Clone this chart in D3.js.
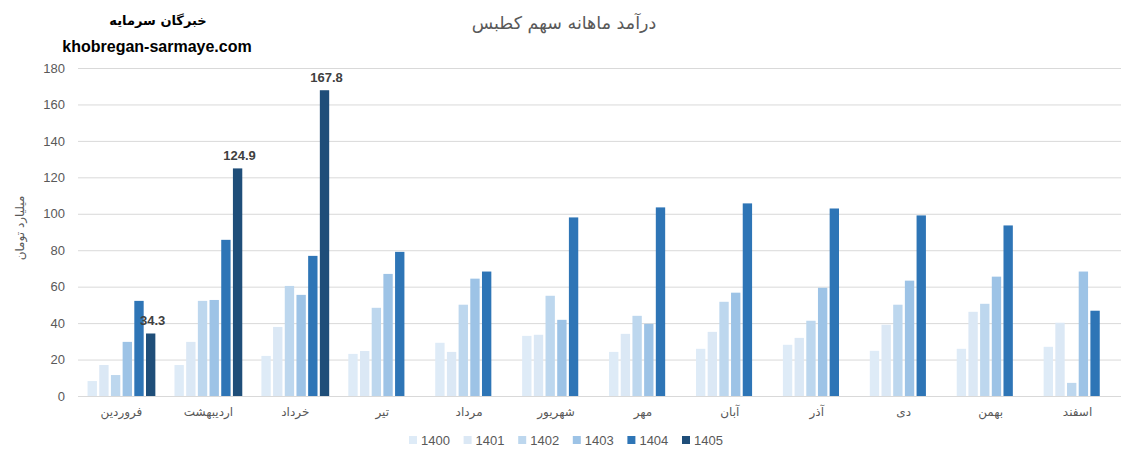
<!DOCTYPE html>
<html>
<head>
<meta charset="utf-8">
<script src="https://cdn.jsdelivr.net/npm/d3@7"></script>
<style>
  body { margin: 0; background: #fff; }
  text { font-family: "DejaVu Sans", "Liberation Sans", sans-serif; }
</style>
</head>
<body>
<svg id="chart" width="1121" height="453"></svg>
<script>
// months of the year (x categories)
const months = ["فروردین", "اردیبهشت", "خرداد", "تیر", "مرداد", "شهریور",
  "مهر", "آبان", "آذر", "دی", "بهمن", "اسفند"];
const years = ["1400", "1401", "1402", "1403", "1404", "1405"];
const yTicks = [0, 20, 40, 60, 80, 100, 120, 140, 160, 180];

// monthly revenue, billion toman
const v1400 = [8.2, 17.0, 22.0, 23.1, 29.2, 33.0, 24.2, 25.9, 28.1, 24.8, 25.9, 27.0];
const v1401 = [17.0, 29.7, 37.9, 24.7, 24.2, 33.6, 34.1, 35.2, 31.9, 39.1, 46.2, 40.2];
const v1402 = [11.5, 52.2, 60.4, 48.4, 50.1, 55.0, 44.0, 51.7, 41.3, 50.1, 50.6, 7.2];
const v1403 = [29.7, 52.7, 55.5, 67.0, 64.4, 41.8, 39.6, 56.7, 59.4, 63.3, 65.5, 68.3];
const v1404 = [52.2, 85.7, 76.9, 79.1, 68.3, 98.0, 103.5, 105.7, 102.9, 99.1, 93.6, 46.8];
const v1405 = [34.3, 124.9, 167.8, null, null, null, null, null, null, null, null, null];

const colors = ["#deebf7", "#dbe8f5", "#bdd7ee", "#9dc3e6", "#2e75b6", "#1f4e79"];

const series = [v1400, v1401, v1402, v1403, v1404, v1405];
const svg = d3.select("#chart");

const plotLeft = 78, plotRight = 1121, plotTop = 68, plotBottom = 396;

let x0 = d3.scaleBand()
  .domain(months)
  .range([plotLeft, plotRight])
  .paddingInner(0.22)
  .paddingOuter(0.11);
let x1 = d3.scaleBand()
  .domain(years)
  .range([0, x0.bandwidth()])
  .paddingInner(0.2);
let y = d3.scaleLinear()
  .domain([0, 180])
  .range([plotBottom, plotTop]);

// grid lines + y labels
let yAxis = d3.axisLeft(y).tickValues(yTicks).tickSize(-(plotRight - plotLeft)).tickPadding(13);
let gy = svg.append("g").attr("transform", `translate(${plotLeft},0)`).call(yAxis);
gy.select(".domain").remove();
gy.selectAll(".tick line").attr("stroke", "#d9d9d9").attr("stroke-width", 1);
gy.selectAll(".tick text")
  .attr("fill", "#595959")
  .style("font-size", "13px")
  .style("font-family", "Liberation Sans, sans-serif");

// bars
const groups = svg.append("g").selectAll("g")
  .data(months)
  .join("g")
  .attr("transform", d => `translate(${x0(d)},0)`);

groups.selectAll("rect")
  .data((m, i) => years.map((yr, k) => ({ year: yr, value: series[k][i], k: k }))
    .filter(d => d.value != null))
  .join("rect")
  .attr("x", d => x1(d.year))
  .attr("width", x1.bandwidth())
  .attr("y", d => y(d.value))
  .attr("height", d => y(0) - y(d.value))
  .attr("fill", d => colors[d.k]);

// data labels for 1405
groups.selectAll("text.lbl")
  .data((m, i) => v1405[i] == null ? [] : [v1405[i]])
  .join("text")
  .attr("class", "lbl")
  .attr("x", x1("1405") + x1.bandwidth() / 2 + 2)
  .attr("y", d => y(d) - 8)
  .attr("text-anchor", "middle")
  .attr("fill", "#404040")
  .style("font-size", "13px")
  .style("font-weight", "bold")
  .style("font-family", "Liberation Sans, sans-serif")
  .text(d => d.toFixed(1));

// x axis
let xAxis = d3.axisBottom(x0).tickSize(0).tickPadding(11);
let gx = svg.append("g").attr("transform", `translate(0,${plotBottom})`).call(xAxis);
gx.select(".domain").attr("stroke", "#d9d9d9").attr("d", `M${plotLeft},0.5H${plotRight}`);
gx.selectAll(".tick text")
  .attr("fill", "#595959")
  .style("font-size", "12px");

// y title
svg.append("text")
  .attr("transform", `translate(24,228) rotate(-90)`)
  .attr("text-anchor", "middle")
  .attr("fill", "#595959")
  .style("font-size", "12px")
  .text("میلیارد تومان");

// chart title
svg.append("text")
  .attr("x", 564)
  .attr("y", 29)
  .attr("text-anchor", "middle")
  .attr("fill", "#595959")
  .style("font-size", "17.5px")
  .text("درآمد ماهانه سهم کطبس");

// watermark
svg.append("text")
  .attr("x", 158)
  .attr("y", 25)
  .attr("text-anchor", "middle")
  .attr("fill", "#000")
  .style("font-size", "13px")
  .style("font-weight", "bold")
  .text("خبرگان سرمایه");
svg.append("text")
  .attr("x", 157)
  .attr("y", 52)
  .attr("text-anchor", "middle")
  .attr("fill", "#000")
  .style("font-size", "16px")
  .style("font-weight", "bold")
  .style("font-family", "Liberation Sans, sans-serif")
  .text("khobregan-sarmaye.com");

// legend
const legend = svg.append("g").selectAll("g")
  .data(years)
  .join("g")
  .attr("transform", (d, i) => `translate(${409 + i * 54.6},440)`);
legend.append("rect")
  .attr("x", 0).attr("y", -4)
  .attr("width", 8).attr("height", 8)
  .attr("fill", (d, i) => colors[i]);
legend.append("text")
  .attr("x", 12).attr("y", 5)
  .attr("fill", "#595959")
  .style("font-size", "13px")
  .style("font-family", "Liberation Sans, sans-serif")
  .text(d => d);
</script>
</body>
</html>
